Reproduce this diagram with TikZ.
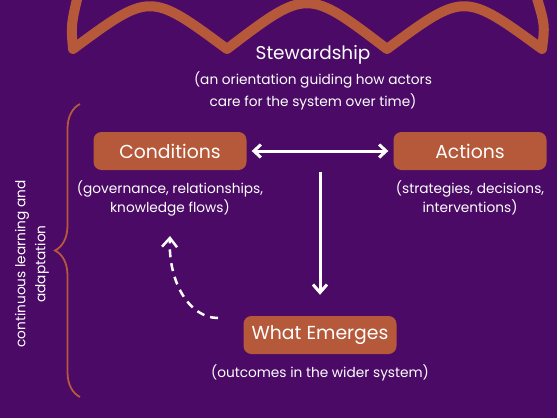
\documentclass[tikz,border=0pt]{standalone}
\usepackage{fontspec}
\setmainfont{Poppins}
\usepackage{tikz}
\usetikzlibrary{positioning}
\usetikzlibrary{arrows.meta}
\usetikzlibrary{decorations.pathreplacing}
\definecolor{plum}{HTML}{4B0A66}
\definecolor{rust}{HTML}{B5593A}

\begin{document}
\begin{tikzpicture}[x=1pt, y=-1pt,
    stage/.style={fill=rust, rounded corners=8pt, minimum width=153pt,
        minimum height=38pt, text=white, font=\fontsize{18.8}{22}\selectfont},
    note/.style={text=white, align=center, inner sep=0pt,
        font=\fontsize{13.7}{19}\selectfont},
    flow/.style={white, line width=3pt,
        -{Straight Barb[length=8pt, width=14pt]}}]

                \def\d{10pt}

                % Page size and the purple ground
                \useasboundingbox (0,0) rectangle (557,418);
                \fill[plum] (0,0) rectangle (557,418);

                % Scalloped edge of the stewardship canopy
                \begin{scope}
                    \clip (0,0) rectangle (557,418);
                    \draw[rust, line width=10pt, line join=round, line cap=round]
                        (78,-5) .. controls (71,25) .. (73,49)
                        .. controls (150,-8) .. (227,49)
                        .. controls (307,-12) .. (387,49)
                        .. controls (464,-8) .. (542,49)
                        .. controls (545,25) .. (536,-5);
                \end{scope}

                \node (stew) at (313,55) [text=white,
                    font=\fontsize{18.5}{22}\selectfont]
                {Stewardship};
                \node (stewtxt) [note, below=4pt of stew,
                    font=\fontsize{13.7}{22}\selectfont]
                {(an orientation guiding how actors\\
                 care for the system over time)};

                \node[stage] (cond) at (170,151)
                {Conditions};
                \node (condtxt) [note, below=\d of cond]
                {(governance, relationships,\\ knowledge flows)};
                \node[stage] (act) at (470,151)
                {Actions};
                \node (acttxt) [note, below=\d of act]
                {(strategies, decisions,\\ interventions)};
                \node[stage] (emerge) at (320,335)
                {What Emerges};
                \node (emergetxt) [note, below=\d of emerge]
                {(outcomes in the wider system)};

                \node (loop) at (32,264) [note, rotate=90,
                    font=\fontsize{13.7}{20}\selectfont]
                {continuous learning and\\ adaptation};

                \coordinate (split) at (320,172);
                \coordinate (back) at (218,318);
                \coordinate (backtip) at (170,236);
                \coordinate (bracebot) at (80,397);
                \coordinate (bracetop) at (80,104);

                \begin{scope}
                    \draw[white, line width=3pt, shorten <=5pt, shorten >=5pt,
                        {Straight Barb[length=7pt, width=13pt]}-{Straight Barb[length=7pt, width=13pt]}]
                        (cond) -- (act);
                    \draw[flow, shorten >=21pt] (split) -- (emerge.north);
                    \draw[flow, line width=2.5pt, dash pattern=on 8pt off 6pt,
                        -{Straight Barb[length=9pt, width=15pt]}]
                        (back) .. controls (190,318) and (168,283) .. (backtip);
                    \draw[rust, line width=1.8pt, decorate,
                        decoration={brace, amplitude=25pt}]
                        (bracebot) -- (bracetop);
                \end{scope}

\end{tikzpicture}
\end{document}
